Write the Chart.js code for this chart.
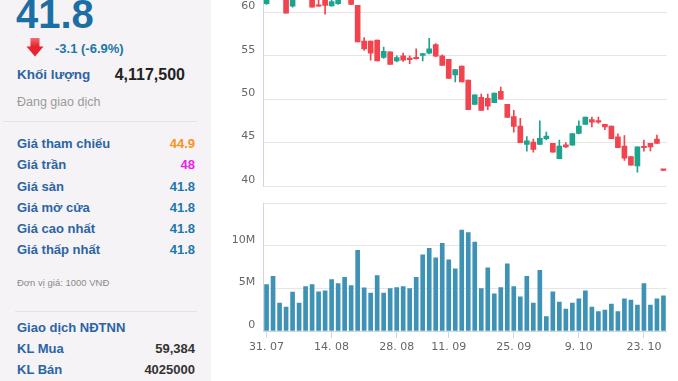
<!DOCTYPE html>
<html><head><meta charset="utf-8">
<script src="https://cdn.jsdelivr.net/npm/chart.js@4"></script>
<style>
html,body{margin:0;padding:0;width:678px;height:381px;overflow:hidden;background:#fff;font-family:"Liberation Sans",Arial,sans-serif;}
#panel{position:absolute;left:0;top:0;width:211px;height:381px;background:#f5f3f5;}
.t{position:absolute;white-space:nowrap;line-height:20px;height:20px;}
.lbl{left:17px;font-size:13px;font-weight:bold;color:#2b64a4;}
.val{right:16px;font-size:13px;font-weight:bold;color:#1d77a9;text-align:right;}
.sep{position:absolute;height:1px;background:#e6e3e6;}
canvas{position:absolute;}
</style></head>
<body>
<div id="panel">
  <div class="t" style="left:16px;top:-5.6px;line-height:40px;height:40px;font-size:40px;font-weight:bold;color:#1c6fa4;">41.8</div>
  <svg style="position:absolute;left:26px;top:38px" width="18" height="19">
    <defs><linearGradient id="g" x1="0" y1="0" x2="0" y2="1"><stop offset="0" stop-color="#f26d72"/><stop offset="1" stop-color="#e41f2a"/></linearGradient></defs>
    <rect x="4.5" y="0" width="9" height="9" fill="url(#g)"/>
    <polygon points="0.5,8.5 17.5,8.5 9,18.5" fill="#e8242e"/>
  </svg>
  <div class="t" style="left:55px;top:38.7px;font-size:13px;font-weight:bold;color:#1d77a9;">-3.1 (-6.9%)</div>
  <div class="t lbl" style="top:64.5px;font-size:13.5px;">Khối lượng</div>
  <div class="t" style="right:26px;top:64.5px;font-size:16px;font-weight:bold;color:#222;">4,117,500</div>
  <div class="t" style="left:17px;top:92px;font-size:12.5px;color:#9a9a9a;">Đang giao dịch</div>
  <div class="sep" style="left:3px;width:194px;top:121px;"></div>
  <div class="t lbl" style="top:134px;">Giá tham chiếu</div><div class="t val" style="top:134px;color:#f7941d;">44.9</div>
  <div class="t lbl" style="top:155px;">Giá trần</div><div class="t val" style="top:155px;color:#f01bf0;">48</div>
  <div class="t lbl" style="top:176.5px;">Giá sàn</div><div class="t val" style="top:176.5px;">41.8</div>
  <div class="t lbl" style="top:198px;">Giá mở cửa</div><div class="t val" style="top:198px;">41.8</div>
  <div class="t lbl" style="top:219px;">Giá cao nhất</div><div class="t val" style="top:219px;">41.8</div>
  <div class="t lbl" style="top:240px;">Giá thấp nhất</div><div class="t val" style="top:240px;">41.8</div>
  <div class="t" style="left:17px;top:272.5px;font-size:9.5px;color:#8a8a8a;">Đơn vị giá: 1000 VNĐ</div>
  <div class="sep" style="left:15px;width:182px;top:311px;"></div>
  <div class="t lbl" style="top:318.3px;">Giao dịch NĐTNN</div>
  <div class="t lbl" style="top:339.2px;">KL Mua</div><div class="t val" style="top:339.2px;color:#333;">59,384</div>
  <div class="t lbl" style="top:360.2px;">KL Bán</div><div class="t val" style="top:360.2px;color:#333;">4025000</div>
</div>
<canvas id="price" width="468" height="190" style="left:210px;top:0;width:468px;height:190px;"></canvas>
<canvas id="vol" width="468" height="188" style="left:210px;top:193px;width:468px;height:188px;"></canvas>
<script>
// ---- data ----
const dates = ["31. 07","1. 08","2. 08","3. 08","4. 08","7. 08","8. 08","9. 08","10. 08","11. 08",
  "14. 08","15. 08","16. 08","17. 08","18. 08","21. 08","22. 08","23. 08","24. 08","25. 08",
  "28. 08","29. 08","30. 08","31. 08","5. 09","6. 09","7. 09","8. 09","11. 09","12. 09",
  "13. 09","14. 09","15. 09","18. 09","19. 09","20. 09","21. 09","22. 09","25. 09","26. 09",
  "27. 09","28. 09","29. 09","2. 10","3. 10","4. 10","5. 10","6. 10","9. 10","10. 10",
  "11. 10","12. 10","13. 10","16. 10","17. 10","18. 10","19. 10","20. 10","23. 10","24. 10",
  "25. 10","26. 10"];
const tickLabels = ["31. 07","14. 08","28. 08","11. 09","25. 09","9. 10","23. 10"];
const opens = [61.0,62.5,63.0,62.2,60.7,61.8,62.2,61.9,60.8,61.6,
  60.75,61.0,61.6,61.8,60.8,56.7,56.7,56.8,54.8,55.45,
  54.4,55.0,54.65,54.8,55.05,55.3,56.3,55.0,54.6,52.8,
  53.8,52.2,49.4,50.2,50.1,49.6,50.9,49.4,48.0,46.9,
  44.8,45.05,44.8,45.45,44.9,43.15,44.75,44.7,46.05,47.1,
  47.65,47.45,47.1,46.9,45.65,44.6,43.4,42.3,44.45,44.9,
  45.4,41.8];
const highs = [62.8,63.5,63.4,62.6,61.8,62.6,62.9,62.2,61.6,61.9,
  61.5,61.8,62.3,62.2,60.8,57.1,56.7,56.8,56.0,55.45,
  55.0,55.3,55.0,55.8,55.25,57.0,56.4,55.1,54.6,53.4,
  53.8,52.2,50.5,50.6,50.6,50.7,51.4,49.4,48.7,47.8,
  45.7,45.4,47.5,46.2,44.9,45.3,45.0,46.05,47.5,47.95,
  47.95,47.95,47.1,46.9,46.0,45.8,43.4,44.5,45.3,44.9,
  45.85,41.8];
const lows = [60.9,62.0,62.0,59.9,60.6,61.6,61.6,60.6,60.7,59.8,
  60.7,60.9,61.5,60.9,56.6,55.6,54.5,54.4,54.7,54.0,
  54.3,54.35,54.1,54.6,54.4,55.2,54.9,53.9,52.4,52.0,
  52.0,48.8,49.4,48.7,48.8,49.6,50.0,47.9,46.2,45.0,
  44.0,43.9,44.8,45.3,43.9,43.15,44.4,44.7,46.0,47.1,
  46.8,47.2,46.5,45.45,44.4,42.95,42.4,41.6,44.0,44.05,
  44.9,41.8];
const closes = [62.5,63.0,62.2,59.9,61.6,62.2,61.9,60.6,60.7,60.8,
  61.25,61.6,62.0,60.9,56.6,55.8,55.3,54.4,55.5,54.0,
  54.8,54.5,54.55,54.65,55.25,55.8,54.95,53.9,52.4,53.4,
  52.0,48.8,50.5,48.7,49.2,50.7,50.0,47.9,46.85,45.0,
  45.2,44.2,45.5,45.75,43.9,44.6,44.5,46.05,46.9,47.95,
  47.35,47.35,46.8,45.45,44.4,43.2,42.4,44.5,44.4,44.5,
  44.9,41.8];
const volumes = [5430000,6400000,3270000,2800000,4570000,3270000,5200000,5430000,4600000,4720000,
  6020000,5550000,6300000,5310000,9440000,5060000,4450000,6500000,4450000,4960000,
  5080000,5200000,4960000,6300000,8930000,9680000,8580000,10270000,8340000,7280000,
  11840000,11530000,10430000,4960000,7400000,4370000,5080000,7870000,5200000,4000000,
  6410000,3270000,7120000,1690000,4600000,3390000,2560000,3270000,3780000,4720000,
  2800000,2280000,2440000,3150000,2280000,3780000,3620000,3030000,5550000,3030000,
  3780000,4117500];
const priceTicks = [40,45,50,55,60];
const volumeTicks = [0,5000000,10000000,15000000];

// ---- styling ----
Chart.defaults.font.family = '"DejaVu Sans", sans-serif';
Chart.defaults.font.size = 11;
Chart.defaults.color = '#666';
const upColor = '#1ea48e', downColor = '#f1444e';
const candleColor = ctx => closes[ctx.dataIndex] > opens[ctx.dataIndex] ? upColor : downColor;
const common = {
  responsive:false, animation:false, events:[],
  plugins:{legend:{display:false}, tooltip:{enabled:false}}
};
function noPad(s){ s.paddingTop=0; s.paddingBottom=0; s.paddingLeft=0; s.paddingRight=0; }

new Chart(document.getElementById('price'), {
  type:'bar',
  data:{labels:dates, datasets:[
    {data:dates.map((d,i)=>[lows[i],highs[i]]), backgroundColor:candleColor, barThickness:1, grouped:false, order:2},
    {data:dates.map((d,i)=>[opens[i],closes[i]]), backgroundColor:candleColor, barThickness:5, minBarLength:1.5, grouped:false, order:1}
  ]},
  options:Object.assign({}, common, {
    layout:{padding:{left:0,right:11.3,top:0,bottom:4}},
    scales:{
      x:{display:false, offset:true},
      y:{min:40, max:61.42,
        afterFit(s){s.width=53.3; noPad(s);},
        afterBuildTicks(s){s.ticks = priceTicks.map(v=>({value:v}));},
        border:{display:true,color:'#ccd6eb'},
        grid:{color:'#e6e6e6', drawTicks:false},
        ticks:{padding:8, labelOffset:-6}}
    }
  })
});

new Chart(document.getElementById('vol'), {
  type:'bar',
  data:{labels:dates, datasets:[{data:volumes, backgroundColor:'#3d92b5', barThickness:4}]},
  options:Object.assign({}, common, {
    layout:{padding:{left:0,right:11.3,top:10,bottom:0}},
    scales:{
      x:{offset:true,
        afterFit(s){s.height=50; noPad(s);},
        border:{color:'#ccd6eb'},
        grid:{offset:false, drawOnChartArea:false, tickLength:7,
          color:ctx => tickLabels.includes(dates[ctx.index]) ? '#ccd6eb' : 'rgba(0,0,0,0)'},
        ticks:{autoSkip:false, maxRotation:0, padding:3,
          callback:(v,i) => tickLabels.includes(dates[i]) ? dates[i] : ''}},
      y:{min:0, max:15000000,
        afterFit(s){s.width=53.3; noPad(s);},
        afterBuildTicks(s){s.ticks = volumeTicks.map(v=>({value:v}));},
        border:{color:'#ccd6eb'},
        grid:{color:'#e6e6e6', drawTicks:false},
        ticks:{padding:8, labelOffset:-6,
          callback:v => v===0 ? '0' : (v>=15000000 ? '' : (v/1000000)+'M')}}
    }
  })
});
</script>
</body></html>
